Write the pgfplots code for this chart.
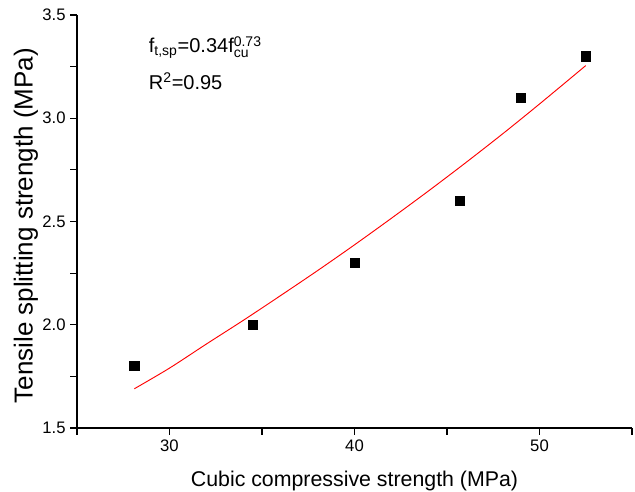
\documentclass[border=0pt]{standalone}
\usepackage{pgfplots}
\pgfplotsset{compat=1.18}
\usepackage{amsmath}
\usepackage{fontspec}
\setmainfont{Liberation Sans}
\begin{document}
\begin{tikzpicture}[x=1pt,y=1pt]
\path[use as bounding box] (-57.75,-48) rectangle (418.5,321);
\begin{axis}[
  at={(0,0)}, anchor=south west,
  scale only axis,
  width=416.25pt, height=309.75pt,
  xmin=25, xmax=55, ymin=1.5, ymax=3.5,
  axis x line*=bottom, axis y line*=left,
  axis line style={-, line width=0.8pt},
  xtick={30,40,50}, minor xtick={25,35,45,55},
  ytick={1.5,2.0,2.5,3.0,3.5}, minor ytick={1.75,2.25,2.75,3.25},
  yticklabel style={/pgf/number format/fixed, /pgf/number format/fixed zerofill, /pgf/number format/precision=1},
  tick align=outside,
  major tick length=5pt, minor tick length=5pt,
  every tick/.style={black, line width=0.8pt},
  /pgf/number format/assume math mode=true,
  tick label style={font=\fontsize{12.5}{14}\selectfont},
  xlabel={Cubic compressive strength (MPa)},
  ylabel={Tensile splitting strength (MPa)},
  xlabel style={font=\fontsize{16}{19}\selectfont, at={(axis description cs:0.5,-0.128)}, anchor=center},
  ylabel style={font=\fontsize{19.5}{22}\selectfont, at={(axis description cs:-0.092,0.49)}, anchor=center},
  clip=false,
]
\addplot[red, line width=0.7pt, smooth] coordinates {
  (28.1,1.690) (30,1.790) (32,1.907) (34,2.022) (36,2.141) (38,2.262)
  (40,2.387) (42,2.516) (44,2.648) (46,2.784) (48,2.924) (50,3.069) (52.5,3.255)
};
\addplot[only marks, mark=square*, mark size=3.5pt, black] coordinates {
  (28.1,1.8) (34.5,2.0) (40.0,2.3) (45.7,2.6) (49.0,3.1) (52.5,3.3)
};
\node[anchor=base west, font=\fontsize{15}{18}\selectfont, inner xsep=0pt] at (axis cs:28.87,3.316)
  {f$_{\text{t,sp}}$=0.34f$_{\text{cu}}^{\text{0.73}}$};
\node[anchor=base west, font=\fontsize{15}{18}\selectfont, inner xsep=0pt] at (axis cs:28.87,3.137)
  {R$^{\text{2}}$=0.95};
\end{axis}
\end{tikzpicture}
\end{document}
